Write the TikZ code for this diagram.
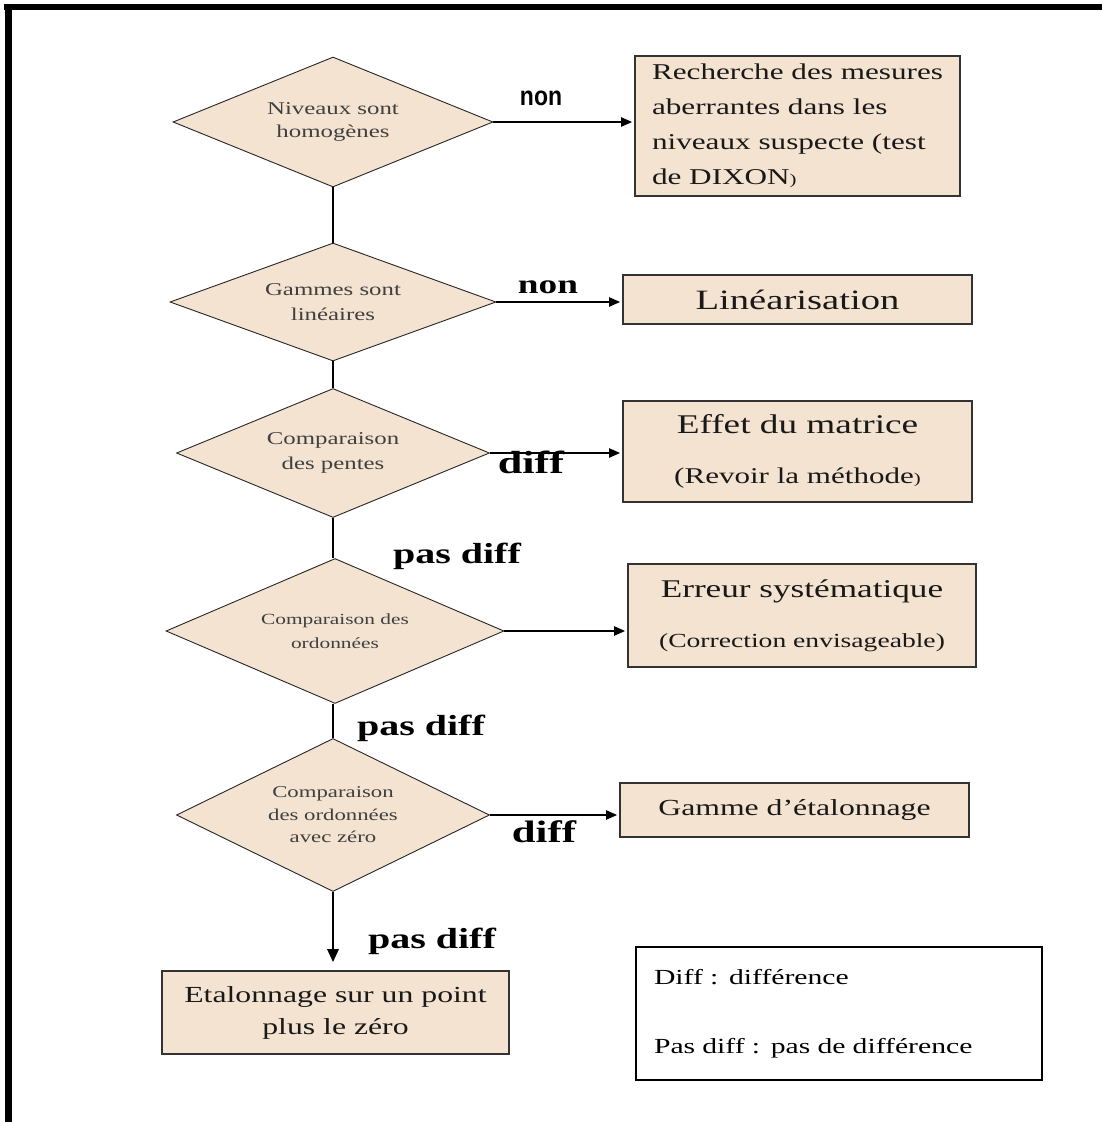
\documentclass[tikz,border=0pt]{standalone}
\usepackage{fontspec}
\setmainfont{Liberation Serif}[FakeStretch=1.38]
\newfontfamily\nonfont{Liberation Sans}[FakeStretch=0.85]
\usetikzlibrary{shapes.geometric,arrows.meta}
\definecolor{tanfill}{RGB}{243,227,208}
\begin{document}
\begin{tikzpicture}[x=1pt,y=-1pt,
  dec/.style={diamond, draw=black!85, line width=0.9pt, fill=tanfill, inner sep=0pt, align=center, text=black!75},
  pbox/.style={rectangle, draw=black!80, line width=1.6pt, fill=tanfill, inner sep=0pt, text=black!90},
  vline/.style={line width=1.3pt},
  harrow/.style={line width=2pt, -{Triangle[length=11pt,width=9pt]}, shorten >=2pt},
  lbl/.style={font=\bfseries, anchor=base, inner sep=0pt}]
\useasboundingbox (0,0) rectangle (1102,1122);
% frame
\draw[line width=6pt] (4,7) -- (1102,7);
\draw[line width=7pt] (8,4) -- (8,1122);
% decisions
\node[dec, shape aspect=2.46, minimum width=320pt, minimum height=130pt, font={\fontsize{18}{23}\selectfont}] (D1) at (333,122) {Niveaux sont\\homogènes};
\node[dec, shape aspect=2.76, minimum width=326pt, minimum height=118pt, font={\fontsize{18}{25}\selectfont}] (D2) at (333,302) {Gammes sont\\linéaires};
\node[dec, shape aspect=2.43, minimum width=313pt, minimum height=129pt, font={\fontsize{18}{25}\selectfont}] (D3) at (333,453) {Comparaison\\des pentes};
\node[dec, shape aspect=2.33, minimum width=338pt, minimum height=145pt, font={\fontsize{15.5}{24}\selectfont}] (D4) at (335,631) {Comparaison des\\ordonnées};
\node[dec, shape aspect=2.05, minimum width=313pt, minimum height=153pt, font={\fontsize{16.5}{22.5}\selectfont}] (D5) at (333,815) {Comparaison\\des ordonnées\\avec zéro};
% process boxes
\node[pbox, minimum width=325pt, minimum height=140pt, align=left, font={\fontsize{22.6}{35}\selectfont}] (B1) at (797.5,126)
  {Recherche des mesures\\aberrantes dans les\\niveaux suspecte (test\\de DIXON{\fontsize{15}{15}\selectfont )}};
\node[pbox, minimum width=349pt, minimum height=49pt, font={\fontsize{28}{30}\selectfont}] (B2) at (797.5,299.5) {Linéarisation};
\node[pbox, minimum width=349pt, minimum height=101pt, align=center, font={\fontsize{22.5}{50}\selectfont}] (B3) at (797.5,451.5)
  {{\fontsize{27}{50}\selectfont Effet du matrice}\\(Revoir la méthode{\fontsize{15}{15}\selectfont )}};
\node[pbox, minimum width=348pt, minimum height=103pt, align=center, font={\fontsize{20}{50}\selectfont}] (B4) at (802,615.5)
  {{\fontsize{25.5}{50}\selectfont Erreur systématique}\\(Correction envisageable)};
\node[pbox, minimum width=349pt, minimum height=54pt, font={\fontsize{23}{25}\selectfont}] (B5) at (794.5,810) {Gamme d’étalonnage};
\node[pbox, minimum width=347pt, minimum height=83pt, align=center, font={\fontsize{23}{32}\selectfont}] (B6) at (335.5,1012.5)
  {Etalonnage sur un point\\plus le zéro};
% legend
\node[draw=black, line width=1.5pt, fill=white, minimum height=133pt, inner xsep=18pt, inner ysep=0pt, text width=370pt, align=left, font={\fontsize{21.5}{69}\selectfont}] (L) at (839,1013.5)
  {Diff : différence\\Pas diff : pas de différence};
% connectors
\draw[vline] (D1.south) -- (D2.north);
\draw[vline] (D2.south) -- (D3.north);
\draw[vline] (D3.south) -- (D3.south |- D4.north);
\draw[vline] (D5.north |- D4.south) -- (D5.north);
\draw[harrow] (D1.east) -- (D1.east -| B1.west);
\draw[harrow] (D2.east) -- (D2.east -| B2.west);
\draw[harrow] (D3.east) -- (D3.east -| B3.west);
\draw[harrow] (D4.east) -- (D4.east -| B4.west);
\draw[harrow] (D5.east) -- (D5.east -| B5.west);
\draw[line width=2.7pt, -{Triangle[length=13pt,width=11pt]}, shorten >=8pt] (D5.south) -- (D5.south |- B6.north);
% labels
\node[anchor=base, inner sep=0pt, font={\nonfont\bfseries\fontsize{27}{27}\selectfont}] (n1) at (541,105) {non};
\node[lbl, font={\bfseries\fontsize{27}{27}\selectfont}] (n2) at (548,293) {non};
\node[lbl, font={\bfseries\fontsize{32}{32}\selectfont}] (d1) at (531,473) {diff};
\node[lbl, font={\bfseries\fontsize{29}{29}\selectfont}] (p1) at (457,563) {pas diff};
\node[lbl, font={\bfseries\fontsize{29}{29}\selectfont}] (p2) at (421,735) {pas diff};
\node[lbl, font={\bfseries\fontsize{31}{31}\selectfont}] (d2) at (544,842) {diff};
\node[lbl, font={\bfseries\fontsize{29}{29}\selectfont}] (p3) at (432,948) {pas diff};
\end{tikzpicture}
\end{document}
